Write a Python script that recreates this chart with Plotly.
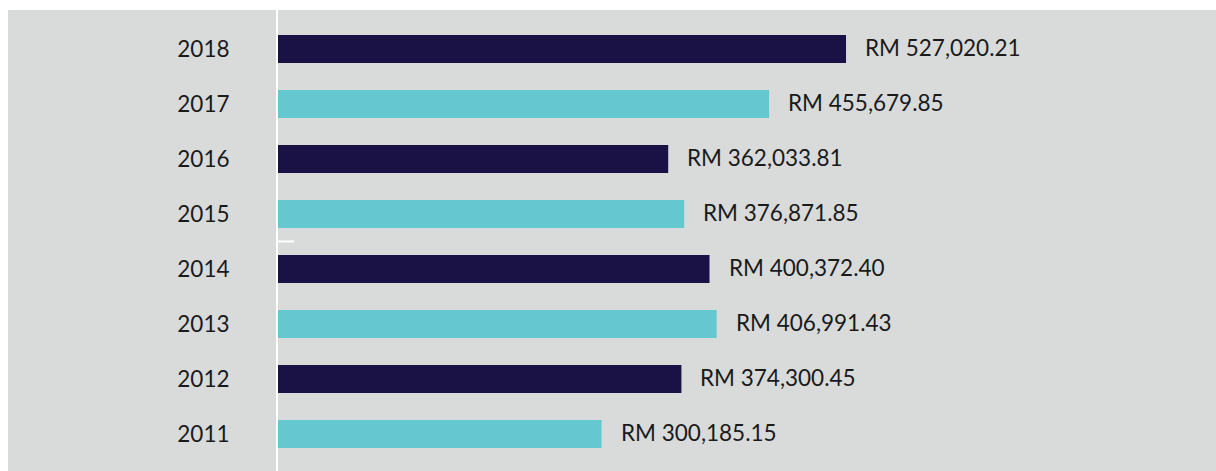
import plotly.graph_objects as go

years = ["2011", "2012", "2013", "2014", "2015", "2016", "2017", "2018"]
values = [300185.15, 374300.45, 406991.43, 400372.40, 376871.85, 362033.81, 455679.85, 527020.21]
value_labels = ["RM 300,185.15", "RM 374,300.45", "RM 406,991.43", "RM 400,372.40",
                "RM 376,871.85", "RM 362,033.81", "RM 455,679.85", "RM 527,020.21"]

DARK = "#1a1244"
CYAN = "#65c7cf"
BG = "#d9dbda"
colors = [CYAN if i % 2 == 0 else DARK for i in range(len(years))]

W, H = 1216, 471
ML, MT = 278, 10
PW, PH = W - ML, H - MT
FONT = "Lato, sans-serif"

fig = go.Figure(go.Bar(
    x=values, y=years, orientation="h",
    marker=dict(color=colors, line=dict(width=0)),
    width=0.51, hoverinfo="skip",
))

for i, (v, lab) in enumerate(zip(values, value_labels)):
    fig.add_annotation(x=v, y=i, text=lab, showarrow=False, xanchor="left",
                       xshift=17, yshift=1,
                       font=dict(family=FONT, size=22.5, color="#1a1a1a"))

# white page margins (left and top strips)
fig.add_shape(type="rect", xref="paper", yref="paper", x0=-ML / PW, x1=(8 - ML) / PW,
              y0=-0.01, y1=1 + MT / PH + 0.01, fillcolor="white", line=dict(width=0), layer="above")
fig.add_shape(type="rect", xref="paper", yref="paper", x0=-ML / PW, x1=1.01,
              y0=1, y1=1 + MT / PH + 0.01, fillcolor="white", line=dict(width=0), layer="above")
# small tick mark
fig.add_shape(type="line", xref="paper", yref="y", x0=0, x1=16 / PW, y0=3.5, y1=3.5,
              line=dict(color="white", width=2), layer="above")

fig.update_layout(
    width=W, height=H,
    margin=dict(l=ML, r=0, t=MT, b=0, pad=0),
    paper_bgcolor=BG, plot_bgcolor=BG,
    showlegend=False,
    xaxis=dict(range=[0, PW / 0.0010778], visible=False, fixedrange=True),
    yaxis=dict(type="category", range=[-0.673, 7.709], showgrid=False, zeroline=False,
               showline=True, linecolor="white", linewidth=2, ticks="",
               ticklabelstandoff=42, fixedrange=True,
               tickfont=dict(family=FONT, size=22.5, color="#1a1a1a")),
)

fig.write_html("out.html", config={"displayModeBar": False},
               post_script="document.body.style.margin='0';document.body.style.overflow='hidden';")
